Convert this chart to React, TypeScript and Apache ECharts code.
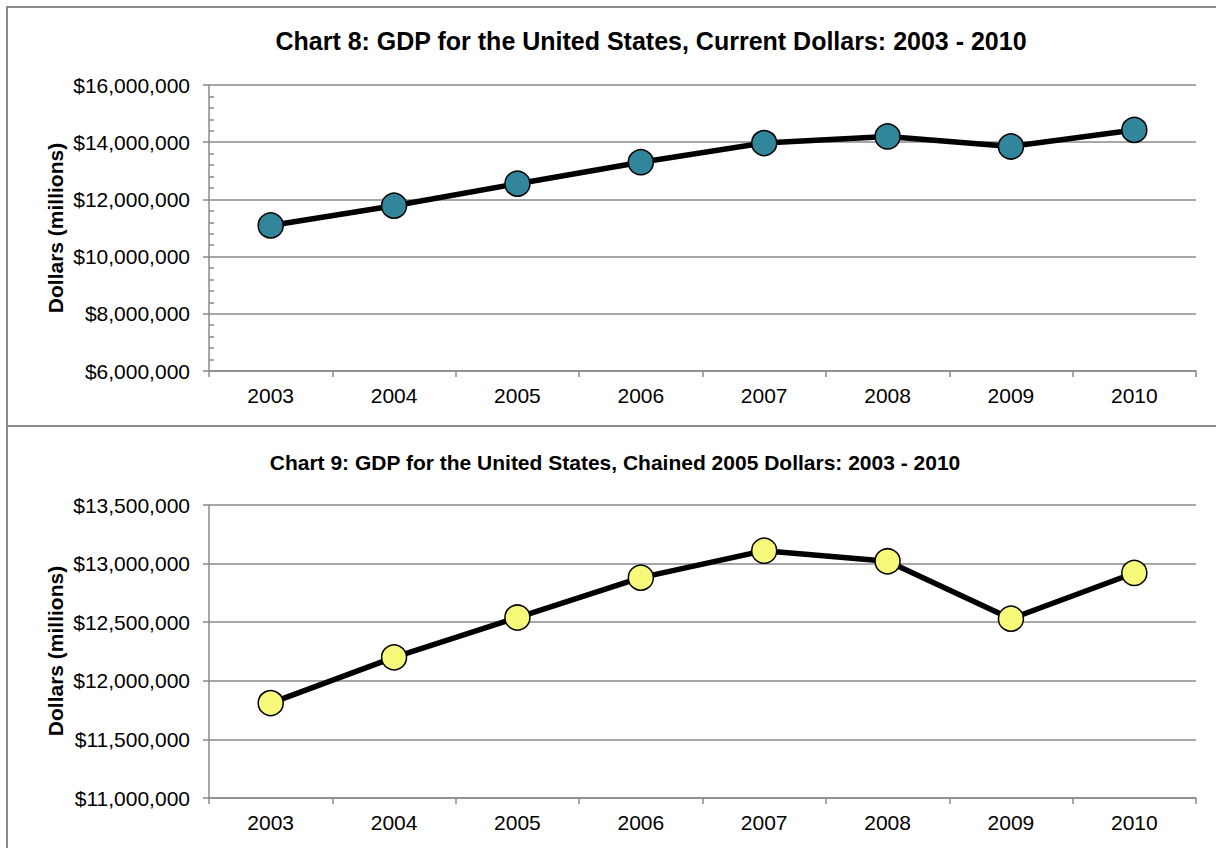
import React, { useEffect, useRef } from "react";
import * as echarts from "echarts";

const years = ["2003", "2004", "2005", "2006", "2007", "2008", "2009", "2010"];
const currentDollars = [11090000, 11780000, 12550000, 13300000, 13970000, 14200000, 13850000, 14430000];
const chainedDollars = [11810000, 12200000, 12540000, 12880000, 13110000, 13020000, 12530000, 12920000];
const title1 = "Chart 8: GDP for the United States, Current Dollars: 2003 - 2010";
const title2 = "Chart 9: GDP for the United States, Chained 2005 Dollars: 2003 - 2010";
const yAxisName = "Dollars (millions)";

const FONT = "'Liberation Sans', Arial, sans-serif";
const GRAY = "#8a8a8a";

const fmt = (v: number) => "$" + Math.round(v).toLocaleString("en-US");

function xAxis(gridIndex: number) {
  return {
    type: "category",
    gridIndex,
    data: years,
    boundaryGap: true,
    axisLine: { show: true, lineStyle: { color: GRAY, width: 1.5 } },
    axisTick: { show: true, interval: 0, length: 6, lineStyle: { color: GRAY, width: 1.5 } },
    axisLabel: { color: "#000", fontSize: 21, fontFamily: FONT, margin: 14, interval: 0 },
    splitLine: { show: false },
  };
}

function yAxis(gridIndex: number, min: number, max: number, interval: number, minor: boolean) {
  return {
    type: "value",
    gridIndex,
    min,
    max,
    interval,
    axisLine: { show: true, lineStyle: { color: GRAY, width: 1.5 } },
    axisTick: { show: true, length: 6, lineStyle: { color: GRAY, width: 1.5 } },
    minorTick: { show: minor, splitNumber: 5, length: -5, lineStyle: { color: GRAY, width: 1.5 } },
    splitLine: { show: true, lineStyle: { color: GRAY, width: 1.5 } },
    axisLabel: { color: "#000", fontSize: 21, fontFamily: FONT, margin: 19, formatter: fmt },
  };
}

export default function App() {
  const ref = useRef<HTMLDivElement>(null);
  useEffect(() => {
    if (!ref.current) return;
    const chart = echarts.init(ref.current, null, { renderer: "svg" });
    chart.setOption({
      animation: false,
      backgroundColor: "#fff",
      grid: [
        { left: 209, top: 85, width: 987, height: 286 },
        { left: 209, top: 505, width: 987, height: 293 },
      ],
      xAxis: [xAxis(0), xAxis(1)],
      yAxis: [
        yAxis(0, 6000000, 16000000, 2000000, true),
        yAxis(1, 11000000, 13500000, 500000, false),
      ],
      series: [
        {
          type: "line",
          xAxisIndex: 0,
          yAxisIndex: 0,
          data: currentDollars,
          symbol: "circle",
          symbolSize: 25,
          lineStyle: { color: "#000", width: 5.5 },
          itemStyle: { color: "#31869b", borderColor: "#000", borderWidth: 1.5 },
          z: 5,
        },
        {
          type: "line",
          xAxisIndex: 1,
          yAxisIndex: 1,
          data: chainedDollars,
          symbol: "circle",
          symbolSize: 25,
          lineStyle: { color: "#000", width: 5.5 },
          itemStyle: { color: "#f7f97a", borderColor: "#000", borderWidth: 1.5 },
          z: 5,
        },
      ],
      graphic: [
        {
          type: "rect",
          shape: { x: 7, y: 7, width: 1260, height: 900 },
          style: { fill: "none", stroke: GRAY, lineWidth: 2 },
          silent: true,
          z: 0,
        },
        {
          type: "line",
          shape: { x1: 7, y1: 426, x2: 1216, y2: 426 },
          style: { stroke: GRAY, lineWidth: 2 },
          silent: true,
        },
        {
          type: "text",
          x: 651,
          y: 41,
          style: {
            text: title1,
            fill: "#000",
            font: `bold 25px ${FONT}`,
            textAlign: "center",
            textVerticalAlign: "middle",
          },
        },
        {
          type: "text",
          x: 615,
          y: 462,
          style: {
            text: title2,
            fill: "#000",
            font: `bold 21px ${FONT}`,
            textAlign: "center",
            textVerticalAlign: "middle",
          },
        },
        {
          type: "text",
          x: 55,
          y: 228,
          rotation: Math.PI / 2,
          style: {
            text: yAxisName,
            fill: "#000",
            font: `bold 21px ${FONT}`,
            textAlign: "center",
            textVerticalAlign: "middle",
          },
        },
        {
          type: "text",
          x: 55,
          y: 651,
          rotation: Math.PI / 2,
          style: {
            text: yAxisName,
            fill: "#000",
            font: `bold 21px ${FONT}`,
            textAlign: "center",
            textVerticalAlign: "middle",
          },
        },
      ],
    });
    return () => chart.dispose();
  }, []);
  return (
    <div
      ref={ref}
      style={{ position: "absolute", left: 0, top: 0, width: 1216, height: 848 }}
    />
  );
}
